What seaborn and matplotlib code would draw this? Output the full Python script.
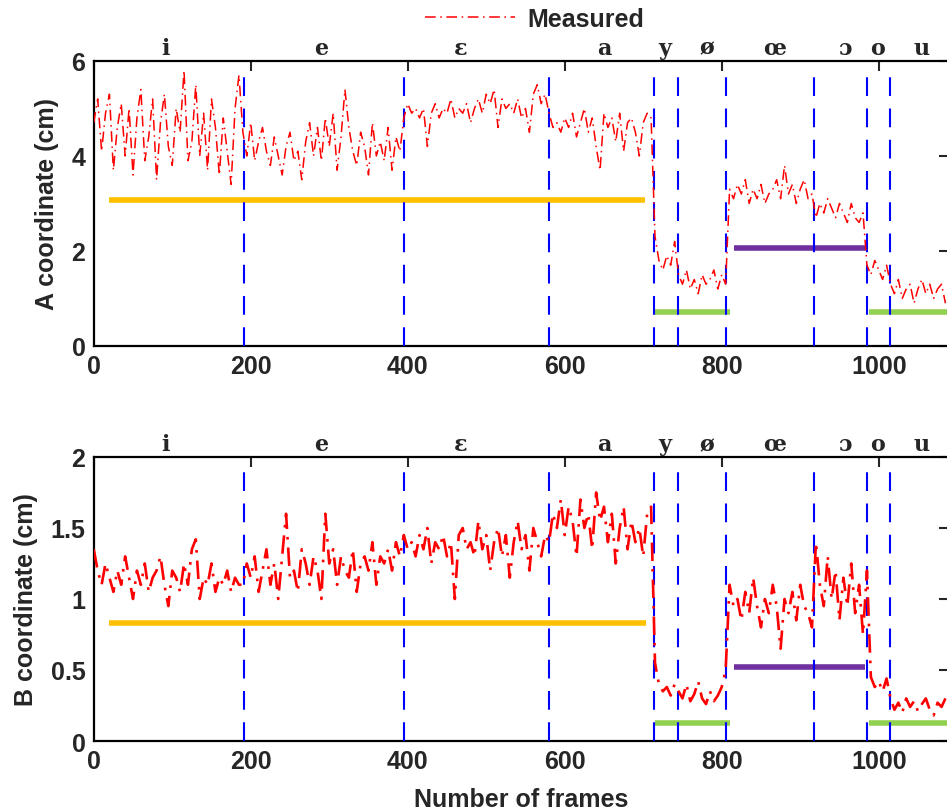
import numpy as np
import pandas as pd
import matplotlib
matplotlib.use("Agg")
import matplotlib.pyplot as plt
import seaborn as sns

# vowel segments: label, first frame of its samples (one sample every 5 frames)
vowels = ["i", "e", "ɛ", "a", "y", "ø", "œ", "ɔ", "o", "u"]
seg_starts = [0, 190, 395, 580, 715, 745, 810, 920, 985, 1015]
step = 5

# measured A coordinate (cm), per vowel segment
a_i = [4.7, 5.2, 4.1, 4.9, 5.3, 3.7, 4.6, 5.1, 4.0, 5.0, 3.6, 4.8, 5.4, 3.9, 4.4, 5.2, 3.5, 4.7, 5.3,
       4.2, 3.8, 5.0, 4.5, 5.8, 3.9, 4.3, 5.5, 4.0, 4.9, 3.7, 5.2, 4.6, 3.6, 4.8, 4.1, 3.4, 5.0, 5.7]
a_e = [4.5, 4.0, 4.7, 3.9, 4.3, 4.6, 4.1, 3.8, 4.4, 4.0, 3.6, 4.2, 4.5, 3.9, 4.1, 3.5, 4.3, 4.7, 4.0,
       4.6, 3.9, 4.8, 4.2, 4.9, 3.7, 4.4, 5.4, 4.6, 4.1, 3.8, 4.5, 4.2, 3.6, 4.7, 4.0, 4.3, 3.9, 4.6,
       3.7, 4.4, 4.1]
a_eps = [4.8, 5.1, 4.9, 5.0, 4.8, 5.0, 4.2, 4.9, 5.1, 4.8, 5.0, 4.9, 5.2, 4.8, 5.0, 4.9, 5.1, 4.7, 5.0,
         5.2, 4.9, 5.3, 5.1, 5.4, 4.6, 5.2, 5.0, 5.1, 4.9, 5.2, 4.8, 5.0, 4.5, 5.3, 5.5, 5.1, 5.3]
a_a = [4.9, 4.6, 4.7, 4.5, 4.8, 4.6, 4.9, 4.4, 4.7, 5.0, 4.5, 4.8, 4.2, 3.7, 4.9, 4.6, 4.8, 4.3, 4.9,
       4.1, 4.7, 4.8, 4.5, 4.0, 4.7, 4.9, 4.8]
a_y = [2.3, 1.8, 1.6, 1.9, 1.7, 2.2]
a_oslash = [1.5, 1.3, 1.6, 1.2, 1.4, 1.1, 1.5, 1.3, 1.4, 1.6, 1.2, 1.5, 1.3]
a_oe = [3.3, 3.1, 3.4, 3.2, 3.5, 3.0, 3.3, 3.1, 3.4, 3.0, 3.2, 3.3, 3.5, 3.1, 3.8, 3.2, 3.4, 3.0, 3.3,
        3.5, 3.1, 3.2]
a_open_o = [2.7, 3.0, 2.8, 3.1, 2.9, 2.7, 3.0, 2.8, 2.6, 3.0, 2.7, 2.6, 2.8]
a_o = [1.7, 1.5, 1.8, 1.6, 1.4, 1.7]
a_u = [1.3, 1.1, 1.4, 1.0, 1.2, 1.3, 0.9, 1.2, 1.4, 1.1, 1.3, 1.0, 1.2, 1.3, 0.9]

# measured B coordinate (cm), per vowel segment
b_i = [1.35, 1.2, 1.1, 1.25, 1.15, 1.05, 1.2, 1.1, 1.3, 1.15, 1.0, 1.2, 1.1, 1.25, 1.05, 1.15, 1.2,
       1.3, 1.1, 0.95, 1.2, 1.15, 1.05, 1.25, 1.1, 1.35, 1.42, 1.0, 1.15, 1.1, 1.25, 1.05, 1.15, 1.1,
       1.2, 1.05, 1.15, 1.1]
b_e = [1.1, 1.25, 1.15, 1.3, 1.05, 1.2, 1.35, 1.1, 1.25, 1.0, 1.3, 1.6, 1.15, 1.2, 1.05, 1.35, 1.25,
       1.1, 1.3, 1.2, 1.0, 1.6, 1.25, 1.35, 1.1, 1.3, 1.2, 1.15, 1.35, 1.05, 1.25, 1.3, 1.2, 1.4, 1.1,
       1.3, 1.25, 1.35, 1.2, 1.4, 1.3]
b_eps = [1.45, 1.35, 1.4, 1.3, 1.45, 1.35, 1.5, 1.25, 1.4, 1.35, 1.45, 1.3, 1.4, 1.0, 1.45, 1.5, 1.35,
         1.4, 1.3, 1.55, 1.35, 1.45, 1.2, 1.4, 1.5, 1.3, 1.45, 1.15, 1.4, 1.55, 1.35, 1.45, 1.2, 1.5,
         1.4, 1.3, 1.45]
b_a = [1.4, 1.6, 1.5, 1.7, 1.45, 1.65, 1.55, 1.3, 1.7, 1.5, 1.6, 1.35, 1.75, 1.55, 1.65, 1.4, 1.6,
       1.25, 1.5, 1.65, 1.35, 1.55, 1.4, 1.5, 1.3, 1.6, 1.65]
b_y = [0.55, 0.4, 0.35, 0.38, 0.32, 0.4]
b_oslash = [0.35, 0.3, 0.4, 0.28, 0.33, 0.42, 0.3, 0.26, 0.35, 0.28, 0.32, 0.38, 0.5]
b_oe = [1.1, 0.95, 1.0, 0.85, 1.05, 0.9, 1.15, 0.95, 0.8, 1.0, 0.9, 1.1, 0.95, 0.65, 1.0, 0.9, 1.05,
        0.85, 1.1, 0.95, 0.9, 0.8]
b_open_o = [1.4, 1.1, 0.95, 1.3, 1.0, 1.2, 0.85, 1.15, 0.95, 1.25, 0.9, 1.1, 0.75]
b_o = [1.2, 0.45, 0.38, 0.42, 0.35, 0.44]
b_u = [0.3, 0.22, 0.27, 0.2, 0.3, 0.24, 0.28, 0.21, 0.26, 0.3, 0.22, 0.18, 0.27, 0.24, 0.3]

# vowel boundaries (frames) and label positions
boundaries = [191, 395, 580, 714, 744, 806, 917, 985, 1015]
label_pos = [91, 290, 467, 650, 728, 781, 867, 957, 998, 1055]

# reference levels: (start frame, end frame, value, colour)
ref_a = [(20, 702, 3.08, "#FFC000"), (715, 810, 0.72, "#92D050"),
         (815, 985, 2.07, "#7030A0"), (987, 1095, 0.72, "#92D050")]
ref_b = [(20, 704, 0.83, "#FFC000"), (715, 810, 0.13, "#92D050"),
         (815, 983, 0.52, "#7030A0"), (988, 1095, 0.13, "#92D050")]


def build_frame(segments):
    rows = []
    for start, vals in zip(seg_starts, segments):
        for k, v in enumerate(vals):
            rows.append((start + k * step, v))
    return pd.DataFrame(rows, columns=["frame", "value"])


df_a = build_frame([a_i, a_e, a_eps, a_a, a_y, a_oslash, a_oe, a_open_o, a_o, a_u])
df_b = build_frame([b_i, b_e, b_eps, b_a, b_y, b_oslash, b_oe, b_open_o, b_o, b_u])

sns.set_style("white")
plt.rcParams["font.family"] = ["Liberation Sans", "DejaVu Sans"]
plt.rcParams["font.weight"] = "bold"

fig = plt.figure(figsize=(9.47, 8.12), dpi=100)
ax_a = fig.add_axes([0.099, 0.5727, 0.9035, 0.351])
ax_b = fig.add_axes([0.099, 0.0862, 0.9035, 0.3498])

panels = [
    (ax_a, df_a, ref_a, 6, [0, 2, 4, 6], ["0", "2", "4", "6"], "A coordinate (cm)", 1.1),
    (ax_b, df_b, ref_b, 2, [0, 0.5, 1, 1.5, 2], ["0", "0.5", "1", "1.5", "2"], "B coordinate (cm)", 1.9),
]

for ax, df, refs, ytop, yt, ytl, ylab, lw in panels:
    for x0, x1, yv, col in refs:
        ax.hlines(yv, x0, x1, color=col, linewidth=4, zorder=2)
    for xb in boundaries:
        ax.axvline(xb, ymin=0, ymax=0.958, color="#0000FF", linewidth=1.5,
                   linestyle=(0, (9, 6)), zorder=3)
    sns.lineplot(data=df, x="frame", y="value", ax=ax, color="red", linewidth=lw,
                 linestyle=(0, (7, 3, 1, 3)), estimator=None, sort=False, zorder=4,
                 label="Measured", legend=False)
    for lab, xp in zip(vowels, label_pos):
        ax.text(xp, ytop * 1.008, lab, ha="center", va="bottom", fontsize=16,
                family="DejaVu Serif", fontweight="bold")
    ax.set_xlim(0, 1090)
    ax.set_ylim(0, ytop)
    ax.set_xticks([0, 200, 400, 600, 800, 1000])
    ax.set_xticklabels(["0", "200", "400", "600", "800", "1000"], fontsize=18, fontweight="bold")
    ax.set_yticks(yt)
    ax.set_yticklabels(ytl, fontsize=18, fontweight="bold")
    ax.set_ylabel(ylab, fontsize=18, fontweight="bold", labelpad=9)
    ax.set_xlabel("")
    ax.tick_params(direction="in", top=True, right=True, length=7, width=1.5, pad=6)
    for sp in ax.spines.values():
        sp.set_linewidth(1.6)
        sp.set_color("black")

ax_b.set_xlabel("Number of frames", fontsize=18, fontweight="bold", labelpad=10)

handles, labels = ax_a.get_legend_handles_labels()
fig.legend(handles[:1], labels[:1], loc="upper center", bbox_to_anchor=(0.565, 1.018),
           frameon=False, handlelength=3.6, handletextpad=0.5,
           prop={"weight": "bold", "size": 18})

fig.savefig("out.png", dpi=100)
